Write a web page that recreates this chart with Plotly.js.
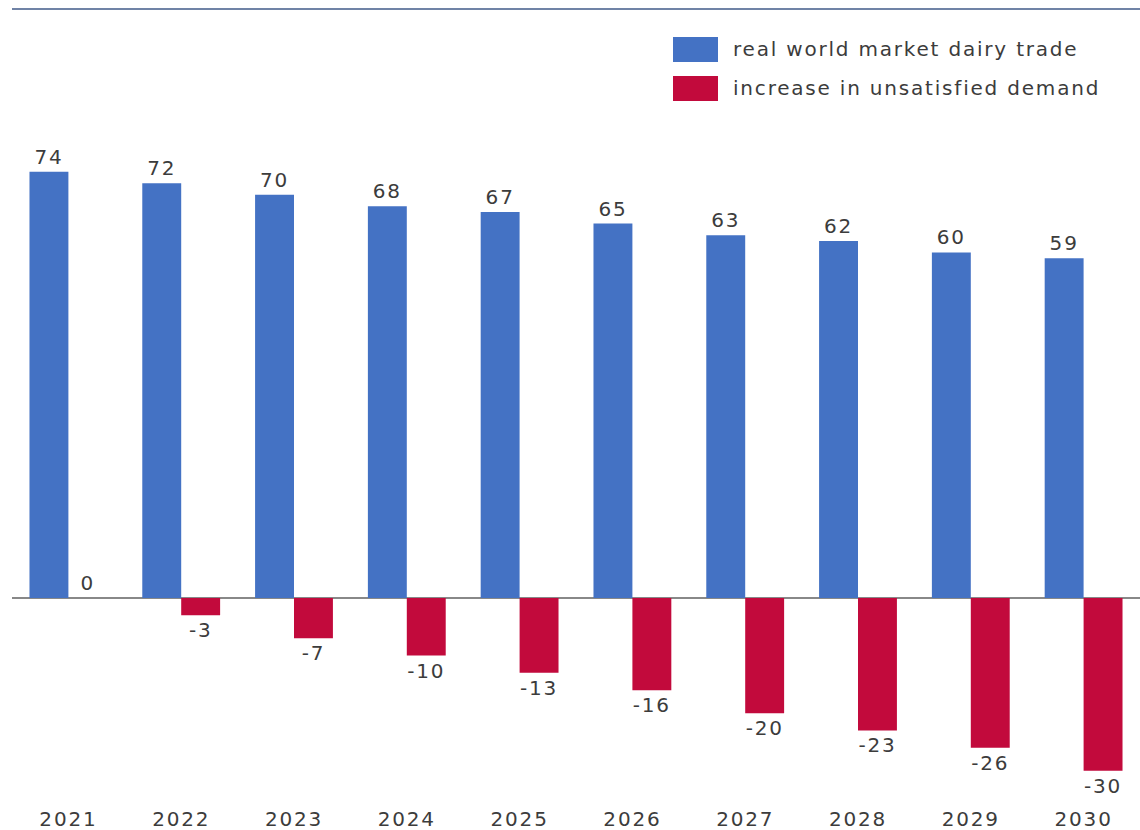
<!DOCTYPE html>
<html>
<head>
<meta charset="utf-8">
<script src="https://cdn.plot.ly/plotly-3.0.1.min.js"></script>
<style>
html,body{margin:0;padding:0;background:#fff;}
#chart{width:1140px;height:830px;}
svg text{letter-spacing:1.8px;}
</style>
</head>
<body>
<div id="chart"></div>
<script>
const years = ["2021","2022","2023","2024","2025","2026","2027","2028","2029","2030"];
const tradeValues = [74, 72, 70, 68, 67, 65, 63, 62, 60, 59];
const demandValues = [0, -3, -7, -10, -13, -16, -20, -23, -26, -30];
const seriesNames = ["real world market dairy trade", "increase in unsatisfied demand"];
const seriesColors = ["#4472C4", "#C20A3C"];

const labelFont = {family: "DejaVu Sans, sans-serif", size: 20, color: "#3c3c3c"};

const traces = [
  {type: "bar", x: years, y: tradeValues, name: seriesNames[0],
   marker: {color: seriesColors[0]}, text: tradeValues.map(String),
   textposition: "outside", textfont: labelFont, cliponaxis: false, hoverinfo: "x+y"},
  {type: "bar", x: years, y: demandValues, name: seriesNames[1],
   marker: {color: seriesColors[1]}, text: demandValues.map(String),
   textposition: "outside", textfont: labelFont, cliponaxis: false, hoverinfo: "x+y"}
];

const shapes = [
  {type: "line", xref: "paper", yref: "paper", x0: 0, x1: 1, y0: 1, y1: 1,
   line: {color: "#7083A6", width: 2}}
];
const annotations = [];
const legendRows = [{y: 49}, {y: 88}];
legendRows.forEach((r, i) => {
  shapes.push({type: "rect", xref: "paper", yref: "paper",
    x0: (673 - 12) / 1128, x1: (718 - 12) / 1128,
    y0: 1 - (r.y - 12 - 9) / 796, y1: 1 - (r.y + 13 - 9) / 796,
    fillcolor: seriesColors[i], line: {width: 0}});
  annotations.push({xref: "paper", yref: "paper", x: (731 - 12) / 1128, y: 1 - (r.y - 9) / 796,
    xanchor: "left", yanchor: "middle", showarrow: false, text: seriesNames[i],
    font: labelFont});
});

const layout = {
  width: 1140, height: 830,
  margin: {l: 12, r: 0, t: 9, b: 25},
  paper_bgcolor: "#ffffff", plot_bgcolor: "#ffffff",
  barmode: "group", bargap: 0.31, bargroupgap: 0,
  showlegend: false,
  xaxis: {type: "category", range: [-0.5, 9.5], showgrid: false, showline: false,
          ticks: "", tickfont: labelFont, ticklabelstandoff: 0, fixedrange: true},
  yaxis: {range: [-35.94, 102.26], showgrid: false, showticklabels: false, ticks: "",
          zeroline: true, zerolinecolor: "#888888", zerolinewidth: 2, showline: false},
  shapes: shapes,
  annotations: annotations,
  font: labelFont
};

Plotly.newPlot("chart", traces, layout, {displayModeBar: false, staticPlot: true});
</script>
</body>
</html>
